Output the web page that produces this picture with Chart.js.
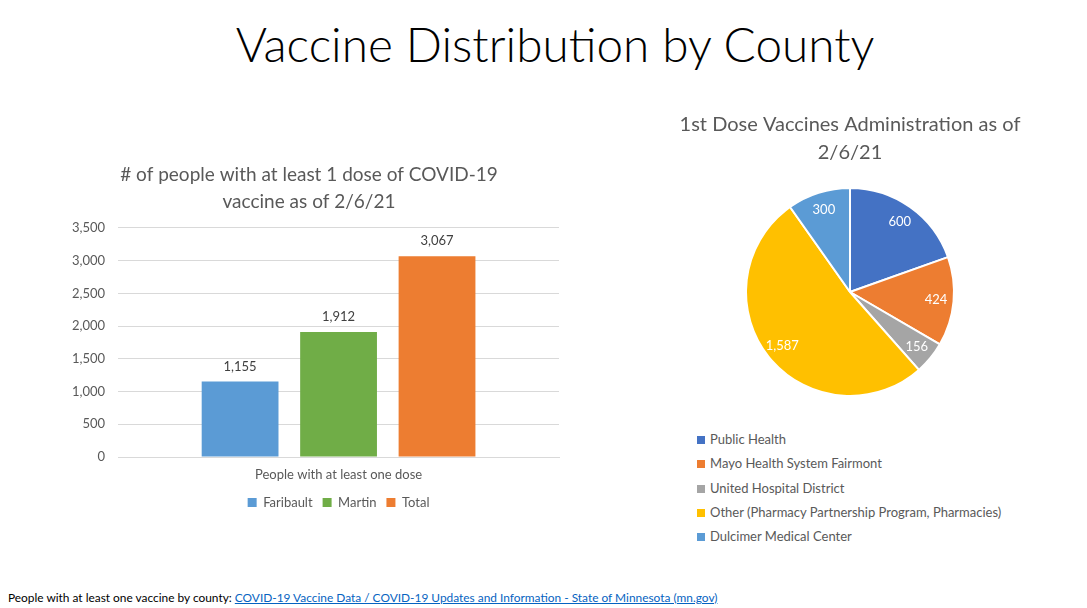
<!DOCTYPE html>
<html>
<head>
<meta charset="utf-8">
<title>Vaccine Distribution by County</title>
<script src="https://cdn.jsdelivr.net/npm/chart.js@4.4.1/dist/chart.umd.min.js"></script>
<style>
body { margin: 0; width: 1087px; height: 608px; background: #fff; position: relative; overflow: hidden; font-family: Lato, sans-serif; }
#title { position: absolute; left: 0; width: 1110px; top: 15px; text-align: center; font-size: 47.7px; font-weight: 300; color: #000; }
#barBox { position: absolute; left: 40px; top: 150px; width: 560px; height: 373px; }
#pieBox { position: absolute; left: 660px; top: 100px; width: 380px; height: 310px; }
#pieLegend { position: absolute; left: 697px; top: 430px; font-size: 13px; color: #595959; }
#pieLegend .item { height: 24.3px; line-height: 18px; white-space: nowrap; }
#pieLegend .sw { display: inline-block; width: 8px; height: 8px; margin-right: 5px; }
#footer { position: absolute; left: 8px; top: 590px; font-size: 11.9px; color: #000; white-space: nowrap; }
#footer a { color: #0563C1; }
</style>
</head>
<body>
<div id="title">Vaccine Distribution by County</div>
<div id="barBox"><canvas id="bars"></canvas></div>
<div id="pieBox"><canvas id="pie"></canvas></div>
<div id="pieLegend"></div>
<div id="footer">People with at least one vaccine by county: <a href="#">COVID-19 Vaccine Data / COVID-19 Updates and Information - State of Minnesota (mn.gov)</a></div>
<script>
var barCategories = ["People with at least one dose"];
var barSeries = ["Faribault", "Martin", "Total"];
var barValues = [1155, 1912, 3067];
var barColors = ["#5B9BD5", "#70AD47", "#ED7D31"];
var barTitle = ["# of people with at least 1 dose of COVID-19", "vaccine as of 2/6/21"];

var pieLabels = ["Public Health", "Mayo Health System Fairmont", "United Hospital District",
                 "Other (Pharmacy Partnership Program, Pharmacies)", "Dulcimer Medical Center"];
var pieValues = [600, 424, 156, 1587, 300];
var pieColors = ["#4472C4", "#ED7D31", "#A5A5A5", "#FFC000", "#5B9BD5"];
var pieTitle = ["1st Dose Vaccines Administration as of", "2/6/21"];

var grey = "#595959";

function fmt(v) {
    return Number(v).toLocaleString("en-US");
}

// value labels above each bar
var barLabels = {
    id: "barLabels",
    afterDatasetsDraw: function(chart) {
        var ctx = chart.ctx;
        ctx.save();
        ctx.font = "13px Lato";
        ctx.fillStyle = "#404040";
        ctx.textAlign = "center";
        ctx.textBaseline = "middle";
        chart.data.datasets.forEach(function(ds, i) {
            chart.getDatasetMeta(i).data.forEach(function(bar, j) {
                ctx.fillText(fmt(ds.data[j]), bar.x, bar.y - 15);
            });
        });
        ctx.restore();
    }
};

// value labels inside each slice, near the rim
var pieValueLabels = {
    id: "pieValueLabels",
    afterDatasetsDraw: function(chart) {
        var ctx = chart.ctx;
        ctx.save();
        ctx.font = "13px Lato";
        ctx.fillStyle = "#fff";
        ctx.textAlign = "center";
        ctx.textBaseline = "middle";
        chart.getDatasetMeta(0).data.forEach(function(arc, j) {
            var p = arc.getProps(["x", "y", "startAngle", "endAngle", "outerRadius"]);
            var mid = (p.startAngle + p.endAngle) / 2;
            var r = p.outerRadius * 0.83;
            ctx.fillText(fmt(chart.data.datasets[0].data[j]), p.x + Math.cos(mid) * r, p.y + Math.sin(mid) * r);
        });
        ctx.restore();
    }
};

var datasets = [];
for (var i = 0; i < barSeries.length; i++) {
    datasets.push({
        label: barSeries[i],
        data: [barValues[i]],
        backgroundColor: barColors[i],
        categoryPercentage: 0.67,
        barPercentage: 0.78
    });
}

new Chart(document.getElementById("bars"), {
    type: "bar",
    data: { labels: barCategories, datasets: datasets },
    plugins: [barLabels],
    options: {
        responsive: true,
        maintainAspectRatio: false,
        animation: false,
        layout: { padding: { left: 19, right: 41, top: 0, bottom: 4 } },
        plugins: {
            title: {
                display: true,
                text: barTitle,
                color: grey,
                font: { family: "Lato", size: 19, weight: "normal", lineHeight: 1.42 },
                padding: { top: 11, bottom: 13 }
            },
            legend: {
                position: "bottom",
                fullSize: false,
                labels: {
                    color: grey,
                    font: { family: "Lato", size: 13 },
                    boxWidth: 9,
                    boxHeight: 9,
                    padding: 10
                }
            },
            tooltip: { enabled: false }
        },
        scales: {
            x: {
                grid: { display: false },
                border: { color: "#D9D9D9" },
                ticks: { color: grey, font: { family: "Lato", size: 13 }, padding: 2 },
                afterFit: function(scale) { scale.height = 29; }
            },
            y: {
                min: 0,
                max: 3500,
                ticks: { stepSize: 500, color: grey, font: { family: "Lato", size: 13 }, padding: 13,
                         callback: function(v) { return fmt(v); } },
                grid: { color: "#D9D9D9", drawTicks: false },
                border: { display: false }
            }
        }
    }
});

new Chart(document.getElementById("pie"), {
    type: "pie",
    data: {
        labels: pieLabels,
        datasets: [{ data: pieValues, backgroundColor: pieColors, borderColor: "#fff", borderWidth: 2 }]
    },
    plugins: [pieValueLabels],
    options: {
        responsive: true,
        maintainAspectRatio: false,
        animation: false,
        layout: { padding: { bottom: 13 } },
        plugins: {
            title: {
                display: true,
                text: pieTitle,
                color: grey,
                font: { family: "Lato", size: 20, weight: "normal", lineHeight: 1.4 },
                padding: { top: 11, bottom: 20 }
            },
            legend: { display: false },
            tooltip: { enabled: false }
        }
    }
});

// legend for the pie, one entry per line
var legendHtml = "";
for (var k = 0; k < pieLabels.length; k++) {
    legendHtml += "<div class='item'><span class='sw' style='background:" + pieColors[k] + "'></span>" + pieLabels[k] + "</div>";
}
document.getElementById("pieLegend").innerHTML = legendHtml;
</script>
</body>
</html>
